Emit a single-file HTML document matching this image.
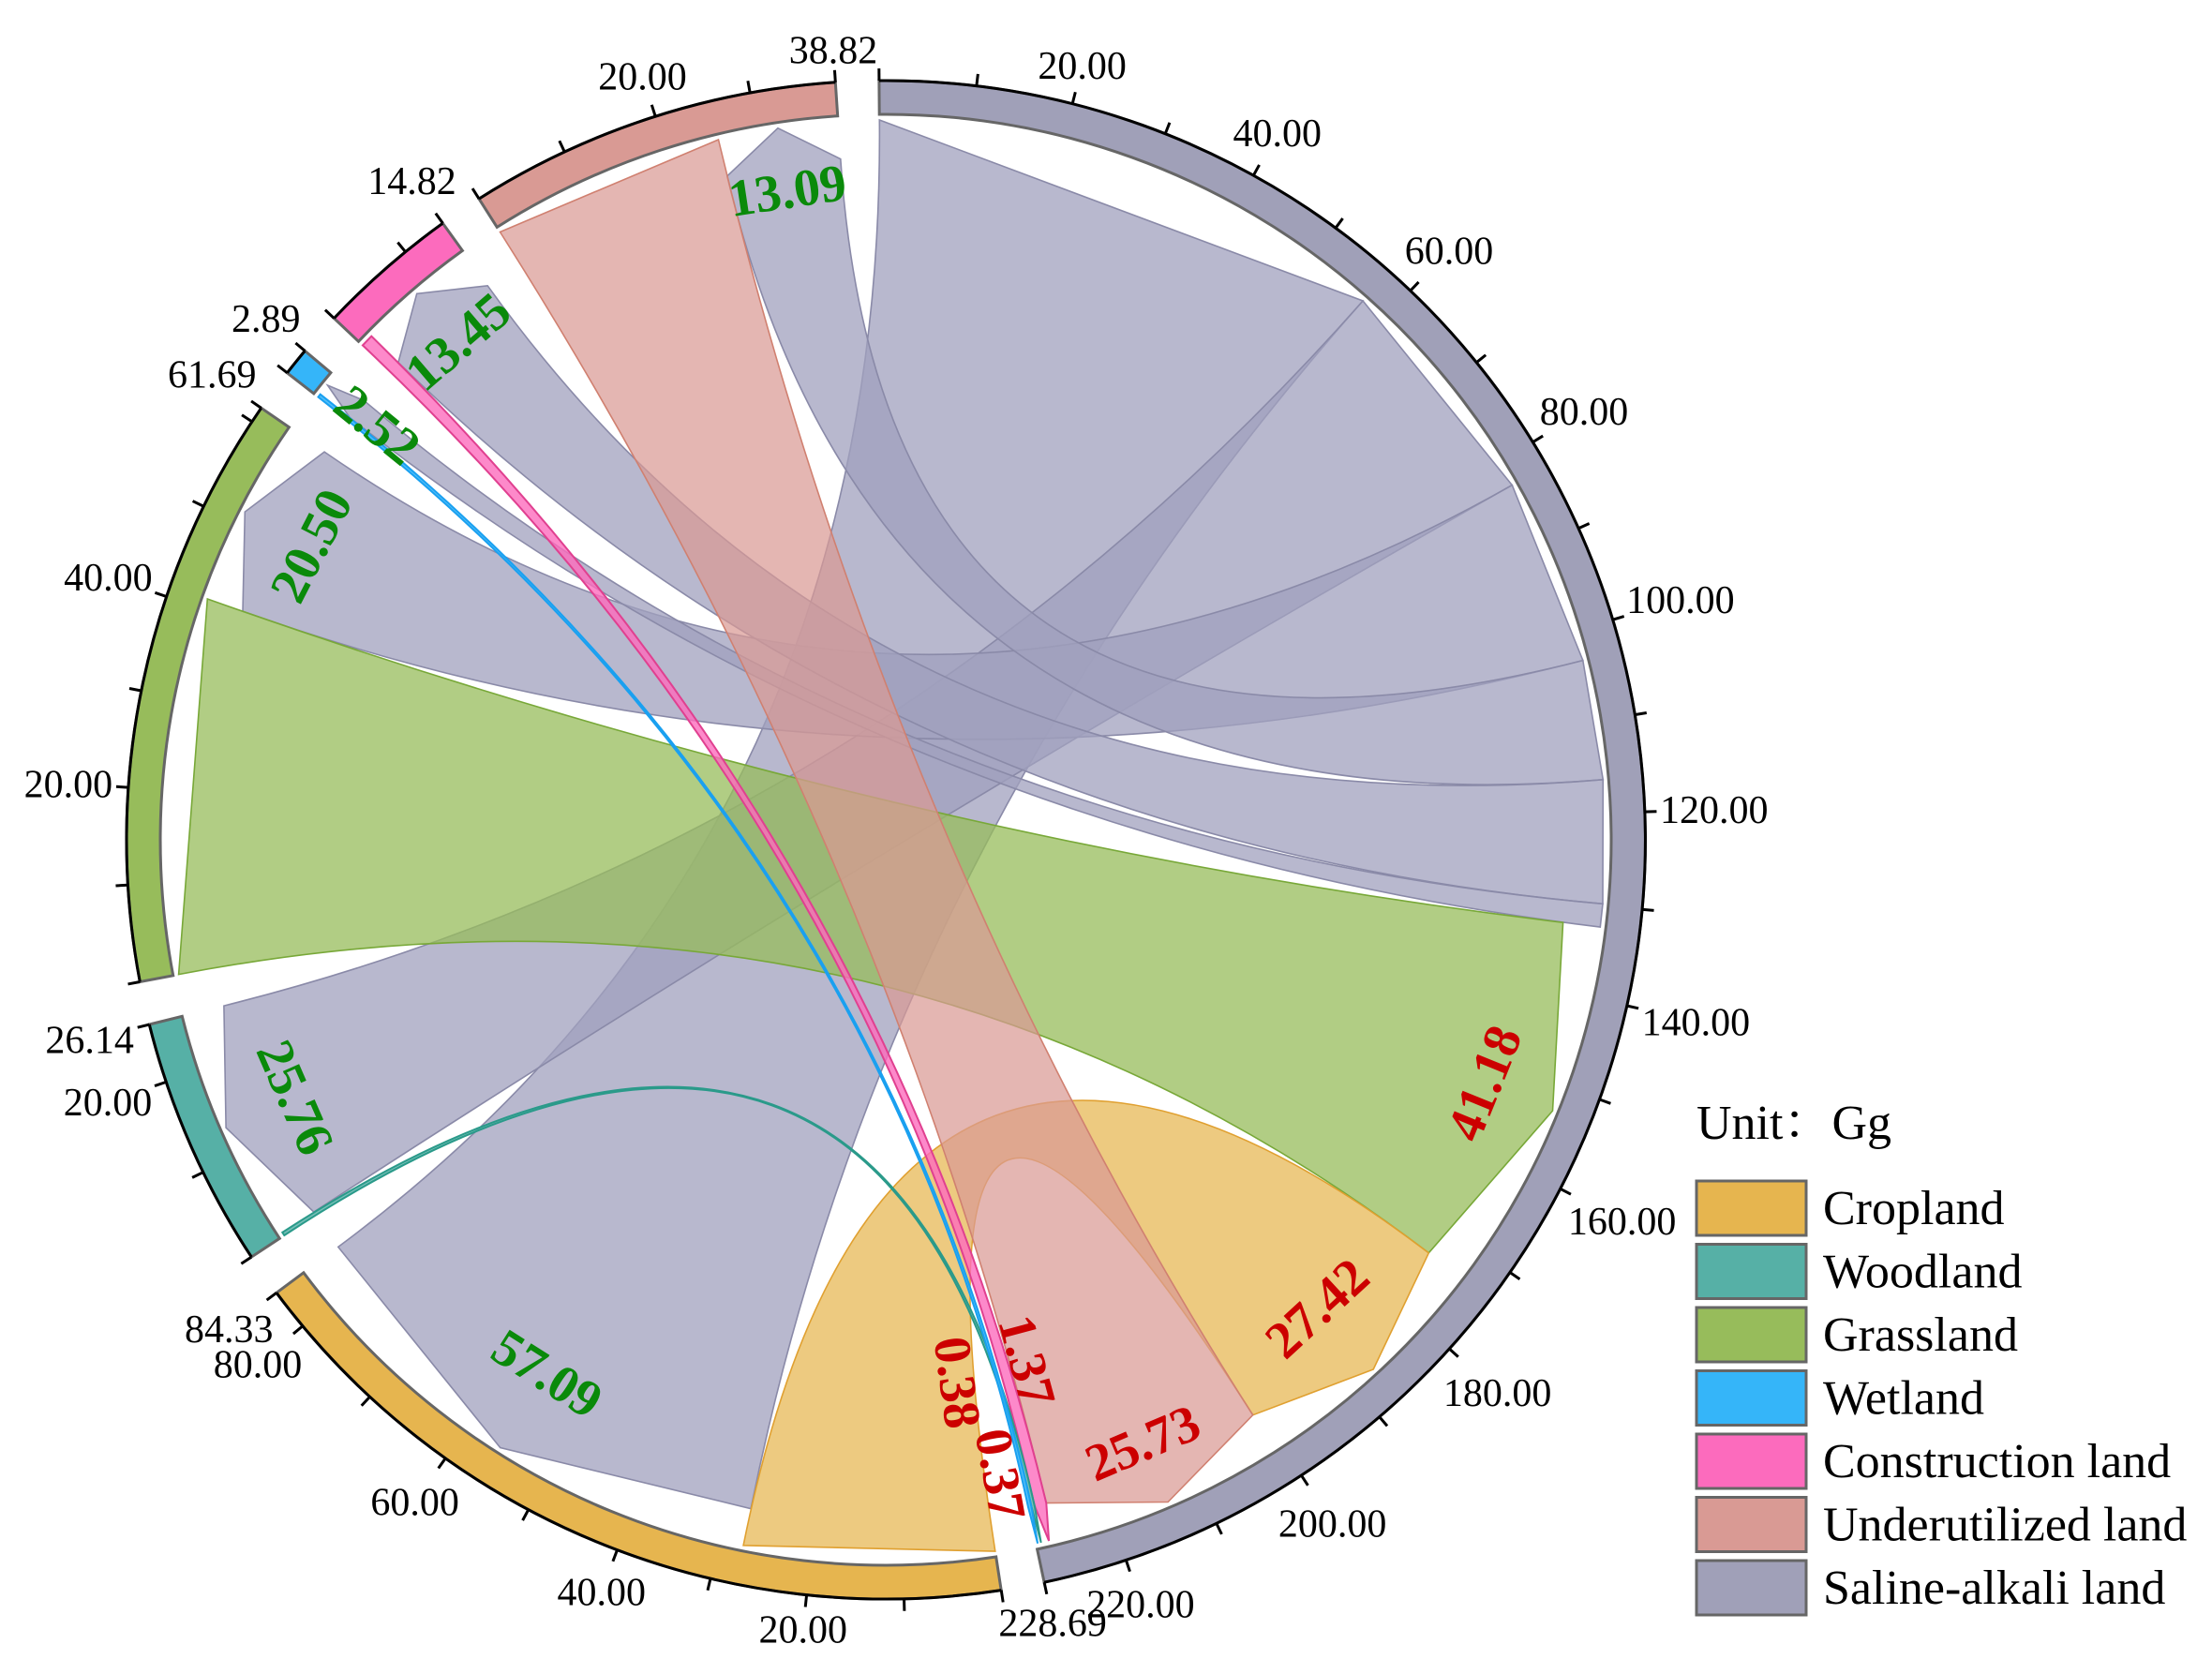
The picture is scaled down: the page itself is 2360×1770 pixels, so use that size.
<!DOCTYPE html>
<html><head><meta charset="utf-8">
<style>
html,body{margin:0;padding:0;background:#fff;}
svg{display:block;font-family:"Liberation Serif","Noto Serif CJK SC",serif;}
</style></head>
<body>
<svg id="chart" width="2360" height="1770" viewBox="0 0 2360 1770" xmlns="http://www.w3.org/2000/svg">
  <g id="chords"></g>
  <g id="ring"></g>
  <g id="labels"></g>
  <g id="legend">
    <text x="1810" y="1215" font-size="52" fill="#000">Unit：Gg</text>
  </g>
</svg>
<script>
const categories = ['Saline-alkali land','Cropland','Woodland','Grassland','Wetland','Construction land','Underutilized land'];
const categoryTotals = [228.69, 84.33, 26.14, 61.69, 2.89, 14.82, 38.82];
const categoryColors = ['#A0A0B8','#E6B54F','#56B0A6','#97BC5B','#35B5F9','#FC6BBD','#D99A94'];
const flowFrom  = [0,0,0,0,0,0, 3,1,6,5,2,4];
const flowTo    = [1,2,3,6,5,4, 0,0,0,0,0,0];
const flowValue = [57.09,25.76,20.50,13.09,13.45,2.52, 41.18,27.42,25.73,1.37,0.38,0.37];
const legendOrder = [1,2,3,4,5,6,0];

const NS='http://www.w3.org/2000/svg';
const cx=945, cy=896, Rout=810, Rin=774, rc=768, rt=728;
const G=3.3, start0=-0.5;
const sumT=categoryTotals.reduce((a,b)=>a+b,0);
const k=(360-categories.length*G)/sumT;
const catStart=[]; let acc=start0;
for(let i=0;i<categories.length;i++){catStart.push(acc);acc+=categoryTotals[i]*k+G;}
function ang(c,u){return catStart[c]+u*k;}
function pt(th,r){const a=th*Math.PI/180;return [cx+r*Math.sin(a),cy-r*Math.cos(a)];}
function f(p){return p[0].toFixed(1)+','+p[1].toFixed(1);}
function mk(tag,attrs,parent){const e=document.createElementNS(NS,tag);for(const a in attrs)e.setAttribute(a,attrs[a]);parent.appendChild(e);return e;}

const seg={};
for(let c=0;c<categories.length;c++){
  const list=[];
  flowFrom.forEach((s,i)=>{if(s===c)list.push([i,'s']);});
  flowTo.forEach((t,i)=>{if(t===c)list.push([i,'t']);});
  const tot=list.reduce((a,x)=>a+flowValue[x[0]],0);
  const sc=Math.min(1,categoryTotals[c]/tot);
  let u=0;
  list.forEach(x=>{const v=flowValue[x[0]]*sc;seg[x[0]+x[1]]=[ang(c,u),ang(c,u+v)];u+=v;});
}

const chordG=document.getElementById('chords');
const fills=['rgba(160,160,190,0.75)','rgba(230,181,79,0.72)','rgba(86,176,166,0.8)','rgba(151,188,91,0.75)','rgba(53,181,249,0.85)','rgba(252,107,189,0.8)','rgba(217,154,148,0.72)'];
const strokes=['#8a8aa8','#e0a030','#2a9a8a','#78a838','#1aa0f0','#e04090','#d08070'];
flowValue.forEach((val,i)=>{
  const s=seg[i+'s'], t=seg[i+'t'];
  const tm=(t[0]+t[1])/2;
  const d='M'+f(pt(s[0],rc))+' L'+f(pt(s[1],rc))+' Q'+cx+','+cy+' '+f(pt(t[0],rt))+' L'+f(pt(tm,rc))+' L'+f(pt(t[1],rt))+' Q'+cx+','+cy+' '+f(pt(s[0],rc))+' Z';
  const c=flowFrom[i];
  const p=mk('path',{d:d,fill:fills[c],stroke:strokes[c],'stroke-width':val<2?2:1.6},chordG);
  
  
});

const ringG=document.getElementById('ring');
for(let c=0;c<categories.length;c++){
  const a0=catStart[c], a1=ang(c,categoryTotals[c]);
  const large=(a1-a0)>180?1:0;
  const d='M'+f(pt(a0,Rout))+' A'+Rout+','+Rout+' 0 '+large+' 1 '+f(pt(a1,Rout))+' L'+f(pt(a1,Rin))+' A'+Rin+','+Rin+' 0 '+large+' 0 '+f(pt(a0,Rin))+' Z';
  const seg_=mk('path',{d:d,fill:categoryColors[c],stroke:'#666','stroke-width':3},ringG);
  
  
  const ax=mk('path',{d:'M'+f(pt(a0,Rout))+' A'+Rout+','+Rout+' 0 '+large+' 1 '+f(pt(a1,Rout)),fill:'none',stroke:'#000','stroke-width':3},ringG);
  
  
  const ticks=[];
  for(let v=0;v<=categoryTotals[c]+1e-9;v+=10)ticks.push(v);
  ticks.push(categoryTotals[c]);
  ticks.forEach(v=>{
    const th=ang(c,v);
    const tk=mk('line',{x1:pt(th,Rout)[0],y1:pt(th,Rout)[1],x2:pt(th,Rout+13)[0],y2:pt(th,Rout+13)[1],stroke:'#000','stroke-width':3},ringG);
    
    
  });
  const labs=[];
  for(let v=20;v<categoryTotals[c]-2.5;v+=20)labs.push(v);
  labs.push(categoryTotals[c]);
  labs.forEach(v=>{
    const th=ang(c,v), a=th*Math.PI/180;
    const txt=v.toFixed(2);
    const fs=42, w=(txt.length-1)*0.5*fs+0.25*fs, h=fs*0.75;
    const r=Rout+16+Math.abs(Math.sin(a))*w/2+Math.abs(Math.cos(a))*h/2;
    const p=pt(th,r);
    const t=mk('text',{x:p[0],y:p[1]+fs*0.35,'text-anchor':'middle','font-size':fs,fill:'#000'},ringG);
    t.textContent=txt;
    
    
  });
}

const labelR=[675,688,688,700,700,700, 690,680,700,576,584,688];
const labelMode=['t','t','t','t','t','r','t','t','t','r','r','r'];
const labelShift=[0,0,0,0,0,0,0,0,0,-2,5,2];
const labG=document.getElementById('labels');
flowValue.forEach((v,i)=>{
  const t=seg[i+'t'];
  const th=(t[0]+t[1])/2+labelShift[i];
  const p=pt(th,labelR[i]);
  let rot;
  if(labelMode[i]==='t'){rot=th;while(rot>90)rot-=180;while(rot<-90)rot+=180;}
  else{rot=th-90;while(rot>90)rot-=180;while(rot<-90)rot+=180;}
  const e=mk('text',{x:0,y:0,transform:'translate('+p[0].toFixed(1)+','+p[1].toFixed(1)+') rotate('+rot.toFixed(1)+')','text-anchor':'middle','dominant-baseline':'central','font-size':56,'font-weight':'bold',fill:flowTo[i]===0?'#CC0000':'#0A8A0A'},labG);
  e.textContent=v.toFixed(2);
  
  
});

const legG=document.getElementById('legend');
legendOrder.forEach((c,j)=>{
  const y=1260+j*67.5;
  const r=mk('rect',{x:1810,y:y,width:117,height:58,fill:categoryColors[c],stroke:'#666','stroke-width':3},legG);
  
  
  const t=mk('text',{x:1945,y:y+46,'font-size':52,fill:'#000'},legG);
  t.textContent=categories[c];
  
  
});
</script>
</body></html>
